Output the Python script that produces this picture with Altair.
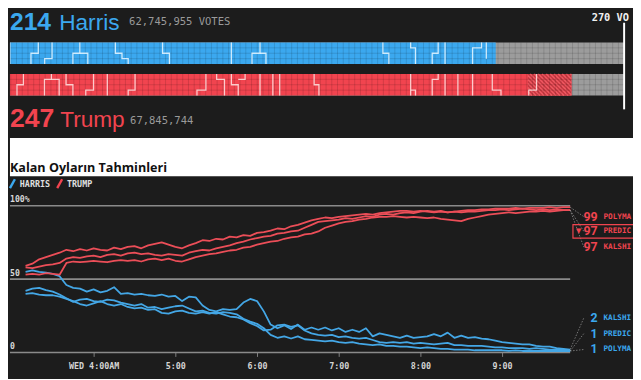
import altair as alt
import numpy as np
import pandas as pd

# ---------------- header data ----------------
candidates = ["Harris", "Trump"]
electoral_votes = [214, 247]
vote_totals = ["62,745,955 VOTES", "67,845,744"]
trump_leaning_ev = 19            # hatched tail of Trump's bar
ev_needed = 270
ev_needed_label = "270 VO"       # as visible (cut by the frame) in the reference
chart_title = "Kalan Oyların Tahminleri"

# state outlines inside the waffle bars: (electoral-vote position, row 0..4)
harris_state_edges = [
    [(2.1, 0), (2.1, 4)],
    [(14.5, 0), (14.5, 2), (11.3, 2), (11.3, 4)],
    [(20.5, 0), (20.5, 3), (17.3, 3), (17.3, 4)],
    [(32.6, 0), (32.6, 2), (29.6, 2), (29.6, 4)],
    [(32.6, 2), (36.1, 2), (36.1, 4)],
    [(48.1, 0), (48.1, 2), (51.0, 2), (51.0, 3), (53.7, 3), (53.7, 4)],
    [(68.7, 0), (68.7, 2), (71.7, 2), (71.7, 4)],
    [(98.7, 0), (98.7, 4)],
    [(111.2, 0), (111.2, 2), (107.7, 2), (107.7, 4)],
    [(111.2, 2), (113.8, 2), (113.8, 4)],
    [(164.8, 0), (164.8, 2), (167.4, 2), (167.4, 4)],
    [(176.9, 0), (176.9, 1), (179.0, 1), (179.0, 4)],
    [(188.9, 0), (188.9, 2), (186.3, 2), (186.3, 4)],
    [(191.9, 0), (191.9, 4)],
    [(207.8, 0), (207.8, 1), (203.9, 1), (203.9, 4)],
    [(209.9, 0), (209.9, 3)],
]
trump_state_edges = [
    [(8.0, 0), (8.0, 2), (5.2, 2), (5.2, 4)],
    [(20.2, 0), (20.2, 1), (17.2, 1), (17.2, 4)],
    [(20.2, 1), (23.6, 1), (23.6, 4)],
    [(26.6, 0), (26.6, 2), (29.6, 2), (29.6, 4)],
    [(38.6, 0), (38.6, 3), (35.2, 3), (35.2, 4)],
    [(44.6, 0), (44.6, 4)],
    [(56.7, 0), (56.7, 3), (53.7, 3), (53.7, 4)],
    [(87.6, 0), (87.6, 3), (83.7, 3), (83.7, 4)],
    [(92.3, 0), (92.3, 1), (95.7, 1), (95.7, 4)],
    [(98.7, 0), (98.7, 2), (101.7, 2), (101.7, 4)],
    [(104.7, 0), (104.7, 1), (101.7, 1)],
    [(111.2, 0), (111.2, 4)],
    [(116.8, 0), (116.8, 4)],
    [(119.8, 0), (119.8, 4)],
    [(134.8, 0), (134.8, 2), (136.9, 2), (136.9, 4)],
    [(176.9, 0), (176.9, 4)],
    [(176.9, 3), (179.0, 3), (179.0, 4)],
    [(188.9, 0), (188.9, 1), (186.3, 1), (186.3, 4)],
    [(191.9, 0), (191.9, 4)],
    [(197.5, 0), (197.5, 4)],
    [(203.9, 0), (203.9, 4)],
    [(212.5, 0), (212.5, 3), (216.3, 3), (216.3, 4)],
    [(231.8, 0), (231.8, 3), (228.4, 3), (228.4, 4)],
]

# ---------------- market data (every 5 minutes, 03:10 -> 09:50) ----------------
times = [t.strftime("%Y-%m-%dT%H:%M:00Z")
         for t in pd.date_range("2024-11-06 03:10", "2024-11-06 09:50", freq="5min")]

harris_kalshi = [55, 56, 55, 54.5, 53.5, 52, 46, 44, 43.5, 41.5,
                 43, 41, 42, 44.5, 40, 40.5, 39.5, 40, 39, 38.5,
                 39.5, 38, 38.5, 35, 38, 37.5, 32, 29, 28, 29.5,
                 29, 29.5, 34, 36.5, 35, 28, 19, 16.5, 18.5, 16,
                 19, 15.5, 17, 15.5, 17, 15, 16.5, 14, 15.5, 14,
                 16.5, 11, 13, 12, 11, 10, 11.5, 10, 10.5, 11,
                 12.5, 11, 13.5, 10, 11.5, 10, 10.5, 9.5, 9, 8,
                 7, 6.5, 6, 5.5, 5.5, 4.5, 4, 4, 3, 2.5, 2]
harris_polymarket = [42, 43.5, 44, 42.5, 41.5, 39.5, 37, 34.5, 36, 36.5,
                     35, 34.5, 36, 35.5, 34, 33, 32, 33, 30.5, 31,
                     29.5, 30.5, 31.5, 32, 30, 28, 28.5, 27, 26.5, 27.5,
                     27, 26, 23, 21, 19.5, 16.5, 12, 10, 11, 9.5,
                     11, 9, 8.5, 8, 7.5, 8, 7, 6.5, 7, 6,
                     5.5, 5, 5.5, 4.5, 4.5, 4, 4, 3.5, 3, 3.5,
                     3, 2.5, 2.5, 2, 2, 2, 1.5, 1.5, 1.5, 1.5,
                     1.5, 1, 1.5, 1, 1, 1, 1, 1, 1, 1, 1]
harris_predictit = [40, 40.5, 39.5, 39, 39, 38, 36.5, 35, 33, 32,
                    33.5, 35, 33, 32, 33, 31, 30, 30.5, 29, 29.5,
                    27, 26.5, 28, 28.5, 27, 26.5, 27.5, 26.5, 27.5, 26,
                    24.5, 24, 22.5, 20, 18, 15, 15.5, 18.5, 19, 17.5,
                    18.5, 15, 13, 12, 11.5, 12, 10.5, 11, 10, 9.5,
                    10, 8.5, 7, 6.5, 7, 6.5, 7, 6, 6.5, 6,
                    5.5, 6, 6.5, 5, 5, 4.5, 4.5, 4.5, 4, 3.5,
                    3.5, 3, 3, 3, 2.5, 3, 2.5, 2, 2, 2, 1]
trump_polymarket = [59, 60.5, 63.5, 65, 66.5, 68, 70, 69, 70.5, 69.5,
                    71, 70, 69.5, 71.5, 70.5, 72, 72.5, 71, 73, 74,
                    75, 73.5, 72, 71, 73, 74.5, 76.5, 76, 77.5, 77,
                    79, 78.5, 80, 79.5, 81.5, 82, 83, 84.5, 84, 86,
                    87, 88.5, 90, 91, 92, 91.5, 92.5, 93, 93.5, 94,
                    94.5, 94, 95, 95.5, 96, 96.5, 96.5, 96, 96.5, 96,
                    95.5, 96, 95.5, 96, 96.5, 97, 97, 97.5, 97.5, 98,
                    98, 98, 98.5, 98, 98.5, 98.5, 98.5, 99, 98.5, 99, 99]
trump_kalshi = [58, 57.5, 58.5, 59.5, 60, 61, 64, 65, 64.5, 65.5,
                66, 65, 66.5, 67, 66, 67.5, 68, 67, 67.5, 66.5,
                66, 67, 66.5, 66, 68, 69, 70, 69.5, 71, 72,
                73, 74.5, 75.5, 77, 78, 79, 79.5, 81, 81.5, 82.5,
                83, 85, 87, 89, 89.5, 90, 90.5, 91.5, 91, 92,
                93, 92.5, 94, 94.5, 94, 95, 95.5, 95, 96, 96.5,
                96, 96.5, 95.5, 96, 95.5, 96, 96, 96.5, 97, 97,
                97.5, 97, 97.5, 98, 97.5, 97, 97.5, 97, 97.5, 97, 97]
trump_predictit = [53, 53.5, 53, 54, 53.5, 53, 61, 62, 61.5, 62,
                   62.5, 62, 61.5, 62.5, 63, 62.5, 63, 62, 63.5, 64,
                   63, 64, 62.5, 62, 63.5, 65, 66, 67, 67.5, 68.5,
                   69.5, 70, 71.5, 72, 73.5, 74.5, 75.5, 76, 77.5, 78.5,
                   79, 80.5, 81, 82.5, 85, 86.5, 88, 89, 89.5, 90.5,
                   91, 92, 92.5, 92.5, 93, 92.5, 92, 92.5, 92, 91.5,
                   92, 91, 90.5, 90, 89.5, 91, 92, 93, 94, 94.5,
                   95, 95.5, 95, 95.5, 96, 96, 96.5, 96, 96.5, 97, 97]

# market labels as they are visible in the reference (cut by the frame)
trump_labels = ["POLYMA", "PREDIC", "KALSHI"]
trump_final = ["99", "97", "97"]
harris_labels = ["KALSHI", "PREDIC", "POLYMA"]
harris_final = ["2", "1", "1"]
y_tick_values = [100, 50, 0]
y_tick_labels = ["100%", "50", "0"]

# ---------------- styling ----------------
BG = "#1c1c1c"
BLUE = "#3ba8ef"
RED = "#f1444f"
GRAY = "#9c9c9c"
BLUE_L = "#44a7e6"
RED_L = "#ec4e58"
W = 633

# ================= header panel =================
lane_base = {"Harris": 0.0, "Trump": 5.818}
xs = alt.Scale(domain=[2.146, 273.87], nice=False, zero=False)
ys = alt.Scale(domain=[-5.818, 24.727], reverse=True, nice=False, zero=False)

bars = pd.DataFrame({"candidate": candidates, "ev": electoral_votes})
bars["base"] = bars["candidate"].map(lane_base)
bars["top"] = bars["base"] + 4
bars["zero"] = 0
bars["full"] = ev_needed
bars["fill"] = [BLUE, RED]

X = lambda f: alt.X(f, scale=xs, axis=None)
Y = lambda f: alt.Y(f, scale=ys, axis=None)

gray = alt.Chart(bars).mark_rect(color=GRAY, clip=True).encode(
    x=X("zero:Q"), x2="full:Q", y=Y("base:Q"), y2="top:Q")
filled = alt.Chart(bars).mark_rect(clip=True).encode(
    x=X("zero:Q"), x2="ev:Q", y=Y("base:Q"), y2="top:Q",
    color=alt.Color("fill:N", scale=None))

tb = lane_base["Trump"]
hatch_start = electoral_votes[1] - trump_leaning_ev
hatch_end = electoral_votes[1]
hatch = pd.DataFrame({"a": [hatch_start], "b": [hatch_end], "y": [tb], "y2": [tb + 4]})
hatch_rect = alt.Chart(hatch).mark_rect(color="#c43841", clip=True).encode(
    x=X("a:Q"), x2="b:Q", y=Y("y:Q"), y2="y2:Q")

shift = 2.361   # one row expressed in electoral votes (45 degree stripes)
segs = []
for x0 in np.arange(hatch_start - 4 * shift, hatch_end, 1.75):
    t0 = max(0.0, (hatch_start - x0) / shift)
    t1 = min(4.0, (hatch_end - x0) / shift)
    if t1 > t0:
        segs.append({"x": x0 + shift * t0, "x2": x0 + shift * t1, "y": tb + t0, "y2": tb + t1})
hatch_lines = alt.Chart(pd.DataFrame(segs)).mark_rule(
    color="#f25a63", strokeWidth=1.4, clip=True).encode(
    x=X("x:Q"), x2="x2:Q", y=Y("y:Q"), y2="y2:Q")

grid = []
for b in lane_base.values():
    for e in np.arange(2.5, ev_needed, 2.5):
        grid.append({"x": e, "x2": e, "y": b, "y2": b + 4})
    for r in (1, 2, 3):
        grid.append({"x": 0, "x2": ev_needed, "y": b + r, "y2": b + r})
grid_rules = alt.Chart(pd.DataFrame(grid)).mark_rule(
    color="black", opacity=0.13, strokeWidth=1, clip=True).encode(
    x=X("x:Q"), x2="x2:Q", y=Y("y:Q"), y2="y2:Q")

outline_rows = []
for cand, edges, col in (("Harris", harris_state_edges, "#dff3ff"),
                         ("Trump", trump_state_edges, "#ffdada")):
    for i, poly in enumerate(edges):
        for k, (e, r) in enumerate(poly):
            outline_rows.append({"id": f"{cand}{i}", "k": k, "ev": e,
                                 "row": lane_base[cand] + r, "stroke": col})
outlines = alt.Chart(pd.DataFrame(outline_rows)).mark_line(
    strokeWidth=1.3, clip=True, opacity=0.9).encode(
    x=X("ev:Q"), y=Y("row:Q"), detail="id:N", order="k:Q",
    color=alt.Color("stroke:N", scale=None))

win_line = alt.Chart(pd.DataFrame({"ev": [ev_needed]})).mark_rule(
    color="white", strokeWidth=2).encode(
    x=X("ev:Q"), y=alt.value(12), y2=alt.value(100))


def txt(s, x, y, size, color, font="Liberation Sans", weight="normal",
        align="left", baseline="alphabetic"):
    return alt.Chart(pd.DataFrame({"t": [s]})).mark_text(
        align=align, baseline=baseline, font=font, fontSize=size,
        fontWeight=weight, color=color, clip=True).encode(
        x=alt.value(x), y=alt.value(y), text="t:N")


band = alt.Chart(pd.DataFrame({"a": [0]})).mark_rect(color="white").encode(
    x=alt.value(0), x2=alt.value(W), y=alt.value(129), y2=alt.value(168))

header = alt.layer(
    gray, filled, hatch_rect, hatch_lines, grid_rules, outlines, win_line,
    txt(str(electoral_votes[0]), 0, 19, 25, BLUE, weight="bold"),
    txt(candidates[0], 50, 19, 23, BLUE),
    txt(vote_totals[0], 121, 14, 10.7, "#9a9a9a", font="DejaVu Sans Mono"),
    txt(str(electoral_votes[1]), 0, 118, 27, RED, weight="bold"),
    txt(candidates[1], 51, 118, 23, RED),
    txt(vote_totals[1], 122, 115, 10.7, "#9a9a9a", font="DejaVu Sans Mono"),
    txt(ev_needed_label, 591, 10, 10.5, "#f0f0f0", font="DejaVu Sans Mono", weight="bold"),
    band,
    txt(chart_title, 0, 164, 12.8, "#111111", font="Open Sans", weight="bold"),
).properties(width=W, height=168)

# ================= line panel =================
def dt(h, m, s=0):
    return alt.DateTime(year=2024, month=11, date=6, hours=h, minutes=m, seconds=s, utc=True)

xt = alt.Scale(type="utc", domain=[dt(2, 58, 33), dt(10, 36, 9)], nice=False)
yv = alt.Scale(domain=[0, 120.1], nice=False, zero=False)
xaxis = alt.Axis(values=[dt(h, 0) for h in range(4, 10)], title=None, domain=False,
                 grid=False, ticks=True, tickColor="#808080", tickSize=4, tickWidth=1,
                 labelColor="#d4d4d4", labelFont="DejaVu Sans Mono", labelFontSize=8.5,
                 labelFontWeight="bold", labelPadding=5,
                 labelExpr="utchours(datum.value) == 4 ? 'WED 4:00AM' : utcFormat(datum.value, '%-H:%M')")

series = {
    ("Harris", "Kalshi"): harris_kalshi, ("Harris", "Polymarket"): harris_polymarket,
    ("Harris", "PredictIt"): harris_predictit, ("Trump", "Polymarket"): trump_polymarket,
    ("Trump", "Kalshi"): trump_kalshi, ("Trump", "PredictIt"): trump_predictit,
}
rows = []
for (party, market), vals in series.items():
    for t, v in zip(times, vals):
        rows.append({"time": t, "value": v, "party": party, "key": party + market})
lines_df = pd.DataFrame(rows)

end_time = times[-1]
grid_df = pd.DataFrame({"v": y_tick_values, "start": ["2024-11-06T02:58:33Z"] * 3,
                        "end": [end_time] * 3})
grid_lines = alt.Chart(grid_df).mark_rule(color="#8a8a8a", strokeWidth=1.6).encode(
    x=alt.X("start:T", scale=xt, axis=xaxis), x2="end:T",
    y=alt.Y("v:Q", scale=yv, axis=None))

ylabels = alt.Chart(pd.DataFrame({"v": y_tick_values, "t": y_tick_labels})).mark_text(
    align="left", baseline="alphabetic", dy=-3.5, font="DejaVu Sans Mono", fontSize=8.3,
    fontWeight="bold", color="#d8d8d8").encode(
    x=alt.value(0), y=alt.Y("v:Q", scale=yv, axis=None), text="t:N")

lines = alt.Chart(lines_df).mark_line(strokeWidth=1.8, clip=True, strokeJoin="round").encode(
    x=alt.X("time:T", scale=xt, axis=xaxis), y=alt.Y("value:Q", scale=yv, axis=None),
    color=alt.Color("party:N", scale=alt.Scale(domain=candidates, range=[BLUE_L, RED_L]), legend=None),
    detail="key:N")

lab = pd.DataFrame({
    "num": trump_final + harris_final,
    "name": trump_labels + harris_labels,
    "ly": [92.6, 82.6, 71.8, 23.5, 12.8, 2.0],
    "ev": [trump_polymarket[-1], trump_predictit[-1], trump_kalshi[-1],
           harris_kalshi[-1], harris_predictit[-1], harris_polymarket[-1]],
    "col": [RED] * 3 + [BLUE] * 3,
    "t": [end_time] * 6,
})
connectors = alt.Chart(lab).mark_rule(strokeDash=[1.5, 1.5], strokeWidth=0.8,
                                      color="#bdbdbd", opacity=0.7).encode(
    x=alt.X("t:T", scale=xt, axis=xaxis), x2=alt.value(583),
    y=alt.Y("ev:Q", scale=yv, axis=None), y2="ly:Q")
nums = alt.Chart(lab).mark_text(align="right", baseline="middle", font="Roboto",
                                fontSize=12.5, fontWeight="bold").encode(
    x=alt.value(597), y=alt.Y("ly:Q", scale=yv, axis=None), text="num:N",
    color=alt.Color("col:N", scale=None))
names = alt.Chart(lab).mark_text(align="left", baseline="middle", font="DejaVu Sans Mono",
                                 fontSize=7.8, fontWeight="bold", clip=True).encode(
    x=alt.value(603), y=alt.Y("ly:Q", scale=yv, axis=None), text="name:N",
    color=alt.Color("col:N", scale=None))
box = alt.Chart(pd.DataFrame({"a": [87.2], "b": [77.9]})).mark_rect(
    fillOpacity=0, stroke=RED, strokeWidth=1.2, clip=True).encode(
    x=alt.value(572), x2=alt.value(645), y=alt.Y("a:Q", scale=yv, axis=None), y2="b:Q")
arrow = alt.Chart(pd.DataFrame({"v": [82.6], "t": ["▼"]})).mark_text(
    align="left", baseline="middle", fontSize=7, color=RED, font="DejaVu Sans").encode(
    x=alt.value(575), y=alt.Y("v:Q", scale=yv, axis=None), text="t:N")

leg = pd.DataFrame({"a": [0]})
slash_b = alt.Chart(leg).mark_rule(color=BLUE, strokeWidth=2.4).encode(
    x=alt.value(0), x2=alt.value(5), y=alt.value(12), y2=alt.value(3))
slash_r = alt.Chart(leg).mark_rule(color=RED, strokeWidth=2.4).encode(
    x=alt.value(48), x2=alt.value(53), y=alt.value(12), y2=alt.value(3))
leg_h = alt.Chart(pd.DataFrame({"t": ["HARRIS"]})).mark_text(
    align="left", baseline="alphabetic", font="DejaVu Sans Mono", fontSize=8.5,
    fontWeight="bold", color="#e0e0e0").encode(x=alt.value(10), y=alt.value(11), text="t:N")
leg_t = alt.Chart(pd.DataFrame({"t": ["TRUMP"]})).mark_text(
    align="left", baseline="alphabetic", font="DejaVu Sans Mono", fontSize=8.5,
    fontWeight="bold", color="#e0e0e0").encode(x=alt.value(58), y=alt.value(11), text="t:N")

panel = alt.layer(grid_lines, ylabels, lines, connectors, box, arrow, nums, names,
                  slash_b, slash_r, leg_h, leg_t).properties(width=W, height=179)

chart = alt.vconcat(header, panel, spacing=0).configure(
    background=BG, padding={"left": 0, "right": 0, "top": 0, "bottom": 6}
).configure_view(stroke=None)

chart.save("out.html", embed_options={"renderer": "svg", "actions": False})
